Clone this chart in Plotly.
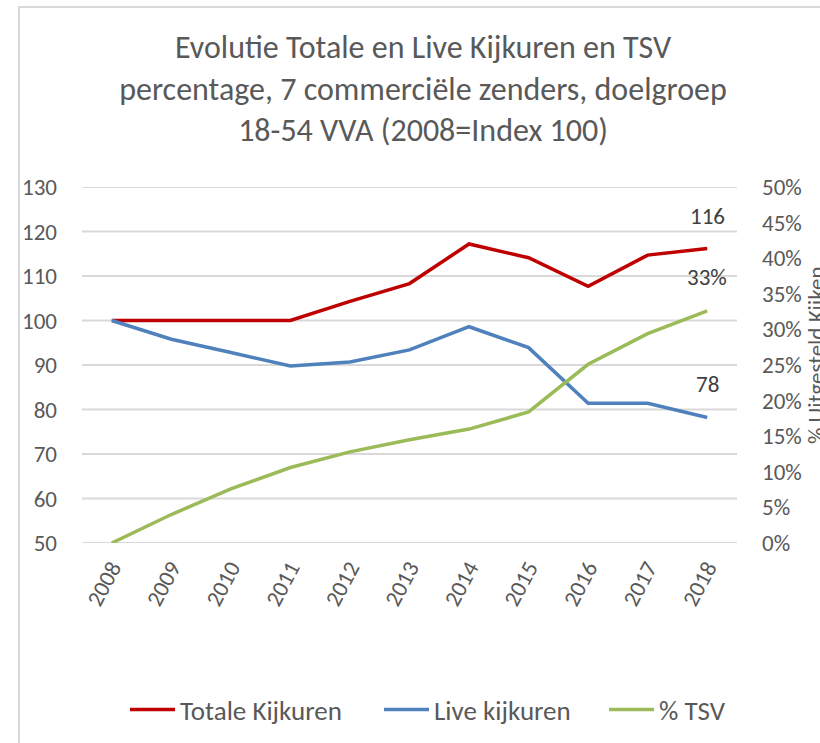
import plotly.graph_objects as go

years = ["2008", "2009", "2010", "2011", "2012", "2013", "2014", "2015", "2016", "2017", "2018"]
totale = [100, 100, 100, 100, 104.3, 108.3, 117.2, 114.1, 107.7, 114.7, 116.2]
live = [100, 95.8, 92.8, 89.8, 90.7, 93.4, 98.6, 93.9, 81.4, 81.4, 78.2]
tsv = [0.0, 0.040, 0.076, 0.106, 0.128, 0.145, 0.160, 0.184, 0.251, 0.294, 0.326]
left_ticks = [50, 60, 70, 80, 90, 100, 110, 120, 130]
right_ticks = [0.0, 0.05, 0.10, 0.15, 0.20, 0.25, 0.30, 0.35, 0.40, 0.45, 0.50]

FONT = "Calibri, Carlito, Lato, sans-serif"
GREY = "#595959"
LAST = len(years) - 1

fig = go.Figure()
for v in left_ticks:
    fig.add_hline(y=v, line=dict(color="#d9d9d9", width=2), layer="below")

fig.add_trace(go.Scatter(x=years, y=totale, name="Totale Kijkuren", mode="lines",
                         line=dict(color="#c00000", width=3.5), legendwidth=194))
fig.add_trace(go.Scatter(x=years, y=live, name="Live kijkuren", mode="lines",
                         line=dict(color="#4f81bd", width=3.5), legendwidth=165))
fig.add_trace(go.Scatter(x=years, y=tsv, name="% TSV", mode="lines", yaxis="y2",
                         line=dict(color="#9bbb59", width=3.5)))

ann_font = dict(size=23, color="#404040", family=FONT)
fig.add_annotation(x=LAST, y=totale[-1], text=f"{totale[-1]:.0f}", showarrow=False,
                   yshift=32, font=ann_font)
fig.add_annotation(x=LAST, y=live[-1], text=f"{live[-1]:.0f}", showarrow=False,
                   yshift=34, font=ann_font)
fig.add_annotation(x=LAST, y=tsv[-1], yref="y2", text=f"{round(tsv[-1]*100):.0f}%", showarrow=False,
                   yshift=34, font=ann_font)
# right axis title (partly cut off at the edge, as in the original)
fig.add_annotation(xref="paper", yref="paper", x=1.1206, y=0.528, text="% Uitgesteld Kijken",
                   textangle=-90, showarrow=False, xanchor="center", yanchor="middle",
                   font=dict(size=23, color=GREY, family=FONT))

fig.add_shape(type="rect", xref="paper", yref="paper", x0=-0.0962, x1=1.3, y0=-1.0, y1=1.5056,
              line=dict(color="#d9d9d9", width=2), layer="below")

fig.update_layout(
    width=820, height=743,
    margin=dict(l=82, r=83, t=187, b=200, autoexpand=False),
    paper_bgcolor="white", plot_bgcolor="white",
    font=dict(family=FONT, color=GREY, size=23),
    title=dict(text="Evolutie Totale en Live Kijkuren en TSV<br>percentage, 7 commerciële zenders, doelgroep<br>18-54 VVA (2008=Index 100)",
               x=423/820, xanchor="center", xref="container", y=1 - 58/743, yanchor="top", yref="container",
               font=dict(size=32, color=GREY, family=FONT), automargin=False),
    xaxis=dict(type="category", range=[-0.5, LAST + 0.5], tickangle=-62, showgrid=False, ticks="",
               showline=False, automargin=False,
               tickfont=dict(size=23, color=GREY), ticklabelstandoff=6),
    yaxis=dict(range=[50, 130], tickvals=left_ticks, showgrid=False,
               zeroline=False, ticks="", automargin=False,
               tickfont=dict(size=23, color=GREY), ticklabelstandoff=24),
    yaxis2=dict(range=[0, 0.5], tickvals=right_ticks, tickformat=".0%",
                overlaying="y", side="right",
                showgrid=False, zeroline=False, ticks="", automargin=False,
                tickfont=dict(size=23, color=GREY), ticklabelstandoff=24),
    legend=dict(orientation="h", x=428/820, xref="container", xanchor="center",
                y=(743 - 710) / 743, yref="container", yanchor="middle",
                font=dict(size=27, color=GREY), itemwidth=45),
    showlegend=True,
)

fig.write_html("out.html", config={"displayModeBar": False},
               post_script="document.body.style.margin='0px';")
